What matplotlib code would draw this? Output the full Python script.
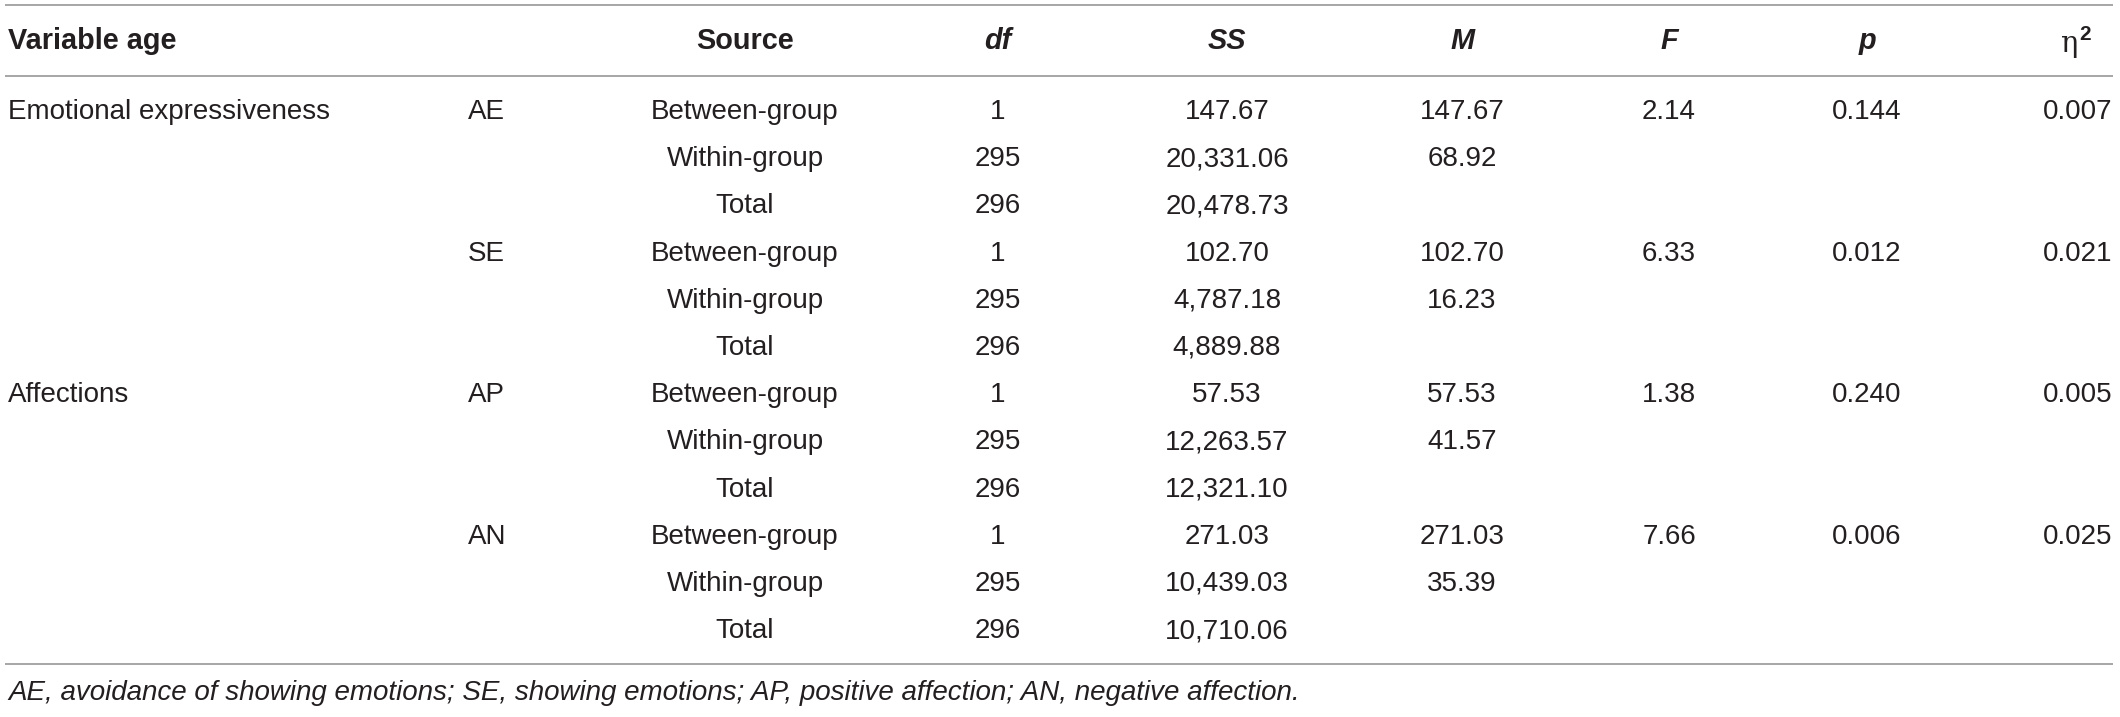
import matplotlib
matplotlib.use("Agg")
import matplotlib.pyplot as plt

# ---- data ----
headers = ["Variable age", "", "Source", "df", "SS", "M", "F", "p"]
variables = ["Emotional expressiveness", "", "", "", "", "", "Affections", "", "", "", "", ""]
subscales = ["AE", "", "", "SE", "", "", "AP", "", "", "AN", "", ""]
sources = ["Between-group", "Within-group", "Total"] * 4
df_vals = ["1", "295", "296"] * 4
ss_vals = ["147.67", "20,331.06", "20,478.73",
           "102.70", "4,787.18", "4,889.88",
           "57.53", "12,263.57", "12,321.10",
           "271.03", "10,439.03", "10,710.06"]
m_vals = ["147.67", "68.92", "", "102.70", "16.23", "",
          "57.53", "41.57", "", "271.03", "35.39", ""]
f_vals = ["2.14", "", "", "6.33", "", "", "1.38", "", "", "7.66", "", ""]
p_vals = ["0.144", "", "", "0.012", "", "", "0.240", "", "", "0.006", "", ""]
eta_vals = ["0.007", "", "", "0.021", "", "", "0.005", "", "", "0.025", "", ""]
footnote = ("AE, avoidance of showing emotions; SE, showing emotions; "
            "AP, positive affection; AN, negative affection.")

W, H = 2120, 717
fig = plt.figure(figsize=(W / 100, H / 100), dpi=100)
ax = fig.add_axes([0, 0, 1, 1])
ax.set_xlim(0, W)
ax.set_ylim(H, 0)
ax.axis("off")

FONT = "Liberation Sans"
FS = 20
HFS = 20.8
TXT = "#231f20"
LINE = "#9f9f9f"

x_var, x_sub = 8, 468
x_src, x_df, x_ss, x_m, x_f, x_p, x_eta = 745, 998, 1227, 1462, 1669, 1867, 2112
y_head = 41
y0, dy = 112, 47.2

for y in (5, 76, 664):
    ax.plot([5, 2113], [y, y], color=LINE, lw=1.3, solid_capstyle="butt")

hk = dict(fontfamily=FONT, fontsize=HFS, color=TXT, va="center", fontweight="bold")
ax.text(x_var, y_head, headers[0], ha="left", **hk)
ax.text(x_src, y_head, headers[2], ha="center", **hk)
for x, h in zip((x_df, x_ss, x_m, x_f, x_p), headers[3:]):
    ax.text(x, y_head, h, ha="center", fontstyle="italic", **hk)
# eta squared header
ax.text(2078, 52, "η", ha="right", va="baseline", fontfamily="DejaVu Serif",
        fontsize=FS * 1.05, color=TXT)
ax.text(2079, 40, "2", ha="left", va="baseline", fontfamily=FONT,
        fontsize=FS * 0.75, fontweight="bold", color=TXT)

tk = dict(fontfamily=FONT, fontsize=FS, color=TXT, va="center")
for i in range(len(sources)):
    y = y0 + i * dy
    ax.text(x_var, y, variables[i], ha="left", **tk)
    ax.text(x_sub, y, subscales[i], ha="left", **tk)
    ax.text(x_src, y, sources[i], ha="center", **tk)
    ax.text(x_df, y, df_vals[i], ha="center", **tk)
    ax.text(x_ss, y, ss_vals[i], ha="center", **tk)
    ax.text(x_m, y, m_vals[i], ha="center", **tk)
    ax.text(x_f, y, f_vals[i], ha="center", **tk)
    ax.text(x_p, y, p_vals[i], ha="center", **tk)
    ax.text(x_eta, y, eta_vals[i], ha="right", **tk)

ax.text(x_var, 693, footnote, ha="left", fontstyle="italic", **tk)

fig.savefig("out.png", dpi=100)
